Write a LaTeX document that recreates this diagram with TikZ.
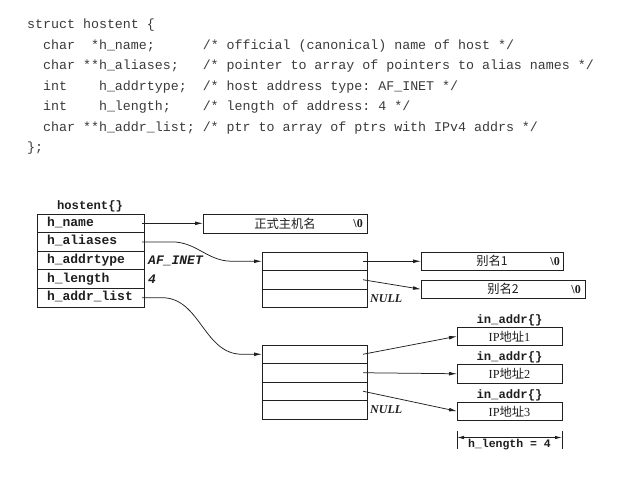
\documentclass[tikz,border=0pt]{standalone}
\usepackage{fontspec}
\setmainfont{Liberation Serif}
\setmonofont{Liberation Mono}
\newfontfamily\hcjk{Noto Sans CJK SC}
\usepackage{xcolor}
\definecolor{m_line}{HTML}{202020}
\definecolor{m_text}{HTML}{1E1E1E}
\definecolor{m_code}{HTML}{3A3A3A}
\usepackage{tikz}
\usetikzlibrary{positioning,arrows.meta}
\newcommand\hcode{\ttfamily\fontsize{13.3}{20.5}\selectfont}
\newcommand\hfield{\ttfamily\bfseries\fontsize{13}{15}\selectfont}
\newcommand\htitle{\ttfamily\bfseries\fontsize{12.2}{14}\selectfont}
\newcommand\hval{\ttfamily\bfseries\itshape\fontsize{13}{15}\selectfont}
\newcommand\hnull{\rmfamily\bfseries\itshape\fontsize{12}{14}\selectfont}
\newcommand\hboxfont{\hcjk\fontsize{12.3}{14}\selectfont}

\begin{document}
\begin{tikzpicture}[
        x=1pt, y=-1pt,
        node distance=0pt,
        every node/.style={text=m_text},
        code/.style={font=\hcode, text=m_code, align=left, inner sep=0pt, anchor=north west},
        field/.style={draw=m_line, line width=1pt, minimum width=107pt, minimum height=18.6pt,
            text width=87pt, inner xsep=10pt, inner ysep=0pt, outer sep=0pt, align=left,
            text height=9pt, text depth=3pt, font=\hfield},
        cell/.style={draw=m_line, line width=1pt, minimum width=105pt, minimum height=18.5pt,
            inner sep=0pt, outer sep=0pt},
        box/.style={draw=m_line, line width=1pt, minimum height=18.5pt, inner sep=0pt,
            outer sep=0pt, anchor=north west, font=\hboxfont},
        title/.style={font=\htitle, inner sep=0pt},
        val/.style={font=\hval, inner sep=0pt},
        nul/.style={font=\hnull, inner sep=0pt},
        zero/.style={font=\rmfamily\bfseries\fontsize{12}{14}\selectfont, inner sep=0pt},
        ptr/.style={draw=m_line, line width=0.75pt, -{Latex[length=8pt,width=3.8pt]}},
        dim/.style={draw=m_line, line width=0.8pt, {Latex[length=7pt,width=3.5pt]}-{Latex[length=7pt,width=3.5pt]}}
    ]
    \useasboundingbox (0,0) rectangle (629,490);

    \node[code] (decl) at (27,19) {struct hostent \{\\
\ \ char\ \ *h\_name;\ \ \ \ \ \ /* official (canonical) name of host */\\
\ \ char\ **h\_aliases;\ \ \ /* pointer to array of pointers to alias names */\\
\ \ int\ \ \ \ h\_addrtype;\ \ /* host address type: AF\_INET */\\
\ \ int\ \ \ \ h\_length;\ \ \ \ /* length of address: 4 */\\
\ \ char\ **h\_addr\_list;\ /* ptr to array of ptrs with IPv4 addrs */\\
\};};

    \node[title] (ht) at (90,206) {hostent\{\}};
    \node[field, anchor=north west] (hn) at (37,214) {h\_name};
    \node[field, below=of hn] (ha) {h\_aliases};
    \node[field, below=of ha] (hat) {h\_addrtype};
    \node[field, below=of hat] (hlen) {h\_length};
    \node[field, below=of hlen] (hl) {h\_addr\_list};
    \node[val, right=4pt of hat] (afi) {AF\_INET};
    \node[val, right=4pt of hlen] (four) {4};

    \node[box, minimum width=164pt] (nm) at (203,214.5) {正式主机名\hspace{8pt}};
    \node[zero, left=4pt of nm.east] (nm0) {\textbackslash0};

    \node[cell, anchor=north west] (al1) at (262,252) {};
    \node[cell, below=of al1] (al2) {};
    \node[cell, below=of al2] (al3) {};
    \node[nul, right=3pt of al3] (anull) {NULL};

    \node[box, minimum width=142pt] (a1) at (421,252) {别名1};
    \node[zero, left=3pt of a1.east] (a10) {\textbackslash0};
    \node[box, minimum width=164pt] (a2) at (421,280) {别名2\hspace{8pt}};
    \node[zero, left=4pt of a2.east] (a20) {\textbackslash0};

    \node[cell, anchor=north west] (ar1) at (262,345) {};
    \node[cell, below=of ar1] (ar2) {};
    \node[cell, below=of ar2] (ar3) {};
    \node[cell, below=of ar3] (ar4) {};
    \node[nul, right=3pt of ar4] (rnull) {NULL};

    \node[box, minimum width=105pt, label={[title, label distance=1pt]above:in\_addr\{\}}] (i1) at (457,327) {\rmfamily IP{\hcjk 地址}1};
    \node[box, minimum width=105pt, label={[title, label distance=1pt]above:in\_addr\{\}}] (i2) at (457,364.5) {\rmfamily IP{\hcjk 地址}2};
    \node[box, minimum width=105pt, label={[title, label distance=1pt]above:in\_addr\{\}}] (i3) at (457,402) {\rmfamily IP{\hcjk 地址}3};

    \coordinate (dl) at ([yshift=-17pt]i3.south west);
    \coordinate (dr) at ([yshift=-17pt]i3.south east);
    \draw[m_line, line width=0.9pt] (dl) ++(0,-7) -- ++(0,18);
    \draw[m_line, line width=0.9pt] (dr) ++(0,-7) -- ++(0,18);
    \draw[dim] (dl) -- (dr);
    \node[title, font=\ttfamily\bfseries\fontsize{11.5}{13}\selectfont, below=1.5pt of i3.south |- dl] (hlen4) {h\_length = 4};

    \draw[ptr] ([xshift=-2pt]hn.east) -- (hn.east -| nm.west);
    \draw[ptr] ([xshift=-2pt]ha.east) -- ++(30,0) to[out=0,in=180] ([xshift=-30pt]al1.west) -- (al1.west);
    \draw[ptr] ([xshift=-2pt]hl.east) -- ++(20,0) to[out=0,in=180] ([xshift=-20pt]ar1.west) -- (ar1.west);
    \draw[ptr] ([xshift=-4pt]al1.east) -- (a1.west);
    \draw[ptr] ([xshift=-4pt]al2.east) -- (a2.west);
    \draw[ptr] ([xshift=-4pt]ar1.east) -- (i1.west);
    \draw[ptr] ([xshift=-4pt]ar2.east) -- (i2.west);
    \draw[ptr] ([xshift=-4pt]ar3.east) -- (i3.west);
\end{tikzpicture}
\end{document}
